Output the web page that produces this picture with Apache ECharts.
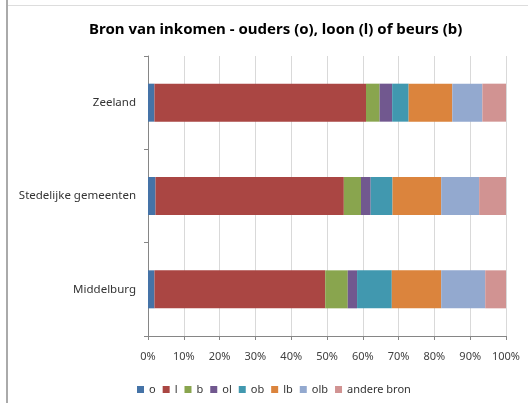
<!DOCTYPE html>
<html>
<head>
<meta charset="utf-8">
<script src="https://cdn.jsdelivr.net/npm/echarts@6/dist/echarts.min.js"></script>
<style>
  html, body { margin: 0; padding: 0; background: #fff; }
  #chart { width: 528px; height: 403px; }
</style>
</head>
<body>
<div id="chart"></div>
<script>
// categories bottom -> top (echarts draws first category at the bottom)
var regions = ['Middelburg', 'Stedelijke gemeenten', 'Zeeland'];
var sources = ['o', 'l', 'b', 'ol', 'ob', 'lb', 'olb', 'andere bron'];
var colors = ['#4573A7', '#AA4643', '#89A54E', '#71588F', '#4198AF', '#DB843D', '#93A9CF', '#D19392'];

// shares (%) per source, in the order of regions
var o      = [1.8, 2.1, 1.8];
var l      = [47.7, 52.6, 59.1];
var b      = [6.3, 4.8, 3.8];
var ol     = [2.6, 2.7, 3.5];
var ob     = [9.7, 6.1, 4.6];
var lb     = [13.8, 13.6, 12.2];
var olb    = [12.3, 10.6, 8.4];
var andere = [5.8, 7.5, 6.6];

var values = [o, l, b, ol, ob, lb, olb, andere];

var font = 'Noto Sans';
var chart = echarts.init(document.getElementById('chart'));

var series = sources.map(function (name, i) {
    return {
        name: name,
        type: 'bar',
        stack: 'total',
        barWidth: 38,
        itemStyle: { color: colors[i] },
        emphasis: { disabled: true },
        data: values[i]
    };
});

option = {
    animation: false,
    backgroundColor: '#fff',
    title: {
        text: 'Bron van inkomen - ouders (o), loon (l) of beurs (b)',
        left: 84,
        top: 17,
        textStyle: { fontFamily: font, fontSize: 15, fontWeight: 'bold', color: '#000' }
    },
    legend: {
        bottom: 3,
        left: 132,
        icon: 'rect',
        itemWidth: 7,
        itemHeight: 7,
        itemGap: 7,
        textStyle: { fontFamily: font, fontSize: 11, color: '#333' },
        data: sources
    },
    grid: {
        left: 148,
        right: 22,
        top: 56,
        bottom: 67
    },
    xAxis: {
        type: 'value',
        min: 0,
        max: 100,
        interval: 10,
        axisLine: { show: true, lineStyle: { color: '#868686' } },
        axisTick: { show: true, length: 4, lineStyle: { color: '#868686' } },
        axisLabel: {
            formatter: '{value}%',
            fontFamily: font, fontSize: 11, color: '#404040', margin: 15
        },
        splitLine: { show: true, lineStyle: { color: '#d9d9d9' } }
    },
    yAxis: {
        type: 'category',
        data: regions,
        axisLine: { show: true, lineStyle: { color: '#868686' } },
        axisTick: { show: true, length: 4, lineStyle: { color: '#868686' } },
        axisLabel: { fontFamily: font, fontSize: 11.5, color: '#333', margin: 12 }
    },
    graphic: [
        { type: 'rect', shape: { x: 6, y: 0, width: 2, height: 403 }, style: { fill: '#aaaaaa' } },
        { type: 'rect', shape: { x: 8, y: 5, width: 520, height: 1 }, style: { fill: '#dddddd' } }
    ],
    series: series
};

chart.setOption(option);
</script>
</body>
</html>
